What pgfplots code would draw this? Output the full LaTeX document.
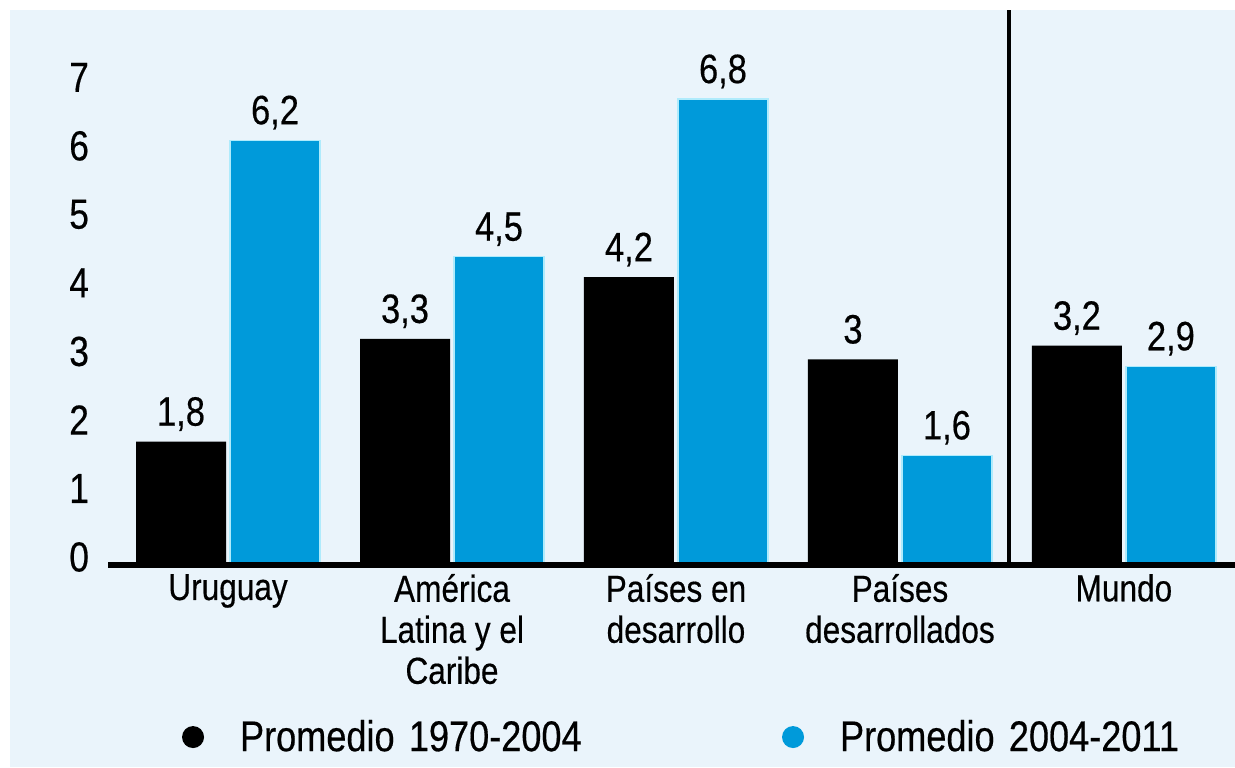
\documentclass[border=0pt]{standalone}
\usepackage{pgfplots}
\pgfplotsset{compat=1.18}
\usepackage{fontspec}
\setmainfont[FakeStretch=0.84, FakeBold=0.4]{Liberation Sans}
\usetikzlibrary{backgrounds}
\definecolor{bgc}{RGB}{234,244,251}
\definecolor{barblue}{RGB}{0,154,218}
\definecolor{edgecyan}{RGB}{175,235,252}
\begin{document}
\begin{tikzpicture}
\begin{axis}[
  at={(0,0)}, anchor=south west,
  scale only axis, width=563.5pt, height=277.5pt,
  xmin=-0.536, xmax=4.496, ymin=0, ymax=8.1,
  ybar=2pt, bar width=45pt,
  axis on top,
  axis x line*=bottom, axis y line*=left,
  y axis line style={draw=none},
  x axis line style={line width=3pt},
  major tick length=0pt,
  /pgf/number format/assume math mode=true,
  xtick={0,1,2,3,4},
  xticklabels={Uruguay, {América\\Latina y el\\Caribe}, {Países en\\desarrollo}, {Países\\desarrollados}, Mundo},
  xticklabel style={align=center, font=\fontsize{18.8}{20.5}\selectfont, yshift=-1pt},
  ytick={0,1,2,3,4,5,6,7},
  yticklabel style={font=\fontsize{21}{24}\selectfont, yshift=4pt, xshift=-6pt},
  nodes near coords, point meta=explicit symbolic,
  every node near coord/.append style={font=\fontsize{20.5}{24}\selectfont, anchor=base, yshift=8pt, text=black},
  legend columns=2,
  legend cell align=left,
  legend style={at={(0.0657,-0.31)}, anchor=west, draw=none, fill=none, inner sep=0pt, outer sep=0pt,
    nodes={inner sep=0pt, text width=271pt, align=left, font=\fontsize{21.5}{24}\selectfont},
    /tikz/every even column/.append style={column sep=0pt}},
  legend image code/.code={\fill[#1, draw=none] (0pt,0pt) circle (5.5pt); \path[draw=none, fill=none] (-5.5pt,-1pt) rectangle (23.5pt,1pt);},
]
\addplot[fill=black, draw=none] coordinates {(0,1.8) [{1,8}] (1,3.3) [{3,3}] (2,4.2) [{4,2}] (3,3) [{3}] (4,3.2) [{3,2}]};
\addplot[fill=barblue, draw=edgecyan, line width=0.6pt] coordinates {(0,6.2) [{6,2}] (1,4.5) [{4,5}] (2,6.8) [{6,8}] (3,1.6) [{1,6}] (4,2.9) [{2,9}]};
\legend{Promedio 1970-2004, Promedio 2004-2011}
\draw[line width=2pt, black] (axis cs:3.487,0) -- (axis cs:3.487,8.1);
\end{axis}
\begin{scope}[on background layer, shift={(current axis.south west)}]
\fill[bgc] (-49pt,-101pt) rectangle (563.5pt,277.5pt);
\end{scope}
\pgfresetboundingbox
\begin{scope}[shift={(current axis.south west)}]
\path[use as bounding box] (-54pt,-101pt) rectangle (563.5pt,282.5pt);
\end{scope}
\end{tikzpicture}
\end{document}
